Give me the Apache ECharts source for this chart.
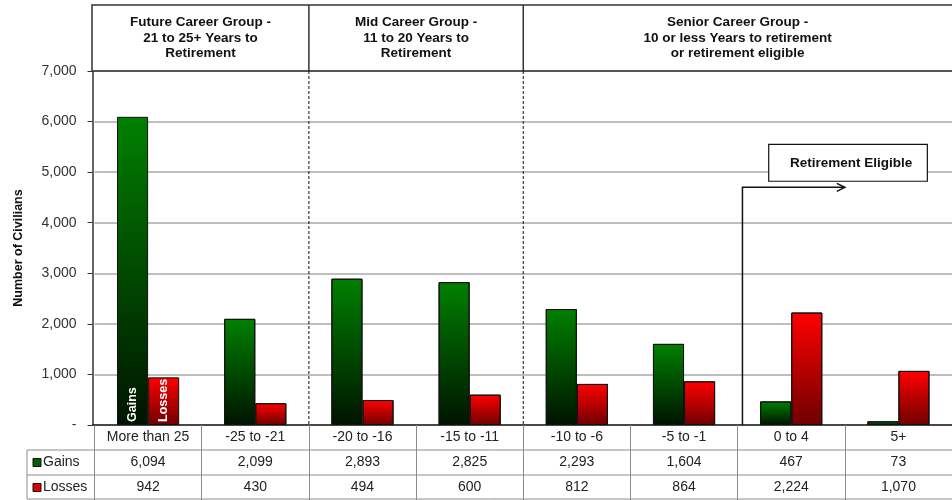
<!DOCTYPE html>
<html><head><meta charset="utf-8">
<script src="https://cdn.jsdelivr.net/npm/echarts@6/dist/echarts.min.js"></script>
<style>html,body{margin:0;padding:0;background:#fff}#c{width:952px;height:500px}</style>
</head><body><div id="c"></div>
<script>
// ---- data ----
const categories = ['More than 25', '-25 to -21', '-20 to -16', '-15 to -11', '-10 to -6', '-5 to -1', '0 to 4', '5+'];
const gains = [6094, 2099, 2893, 2825, 2293, 1604, 467, 73];
const losses = [942, 430, 494, 600, 812, 864, 2224, 1070];
const seriesNames = ['Gains', 'Losses'];
const yAxisTitle = 'Number of Civilians';
const groupTitles = [
  'Future Career Group -\n21 to 25+ Years to\nRetirement',
  'Mid Career Group -\n11 to 20 Years to\nRetirement',
  'Senior Career Group -\n10 or less Years to retirement\nor retirement eligible'
];
const groupStarts = [0, 2, 4];   // first category index of each group
const groupEnds = [1, 3, 7];     // last category index of each group
const annotationText = 'Retirement Eligible';
const eligibleFrom = 6;          // category index where retirement eligibility starts

// ---- helpers ----
const fmt = v => v === 0 ? '-' : v.toLocaleString('en-US');
const FONT = '"Liberation Sans", Arial, sans-serif';

const chart = echarts.init(document.getElementById('c'), null, {renderer: 'canvas'});

function grad(top, bottom) {
  return new echarts.graphic.LinearGradient(0, 0, 0, 1, [
    {offset: 0, color: top}, {offset: 1, color: bottom}
  ]);
}
const greenFill = grad('#008000', '#001400');
const redFill = grad('#ff0000', '#700000');

function firstLabel(text) {
  return {
    show: true, position: 'insideBottom', rotate: 90, distance: 3,
    align: 'left', verticalAlign: 'middle',
    formatter: text, color: '#fff', fontWeight: 'bold', fontSize: 12.5, fontFamily: FONT
  };
}

chart.setOption({
  animation: false,
  textStyle: {fontFamily: FONT},
  grid: {left: 94.5, top: 71, width: 859, bottom: 75, containLabel: false},
  xAxis: {
    type: 'category',
    data: categories,
    boundaryGap: true,
    axisLine: {show: true, lineStyle: {color: '#222', width: 1.5}},
    axisTick: {show: true, alignWithLabel: false, length: 75, lineStyle: {color: '#8c8c8c', width: 1}},
    axisLabel: {
      interval: 0, margin: 0,
      formatter: (value, idx) => `{c|${value}}\n{v|${fmt(gains[idx])}}\n{v|${fmt(losses[idx])}}`,
      rich: {
        c: {fontSize: 14, lineHeight: 25, color: '#222', fontFamily: FONT},
        v: {fontSize: 14, lineHeight: 25, color: '#222', fontFamily: FONT}
      }
    },
    splitLine: {show: false}
  },
  yAxis: {
    type: 'value', min: 0, max: 7000, interval: 1000, offset: 2,
    name: yAxisTitle, nameLocation: 'middle', nameGap: 67,
    nameTextStyle: {fontSize: 12.5, fontWeight: 'bold', color: '#111', fontFamily: FONT},
    axisLine: {show: true, lineStyle: {color: '#333', width: 1.5}},
    axisTick: {show: true, length: 5, lineStyle: {color: '#333'}},
    axisLabel: {formatter: fmt, fontSize: 14, color: '#333', margin: 16, fontFamily: FONT},
    splitLine: {lineStyle: {color: '#a8a8a8', width: 1.5}}
  },
  series: [
    {
      name: seriesNames[0], type: 'bar', barGap: '0%', barCategoryGap: '42%',
      itemStyle: {color: greenFill, borderColor: '#111', borderWidth: 1},
      data: gains.map((v, i) => i === 0 ? {value: v, label: firstLabel(seriesNames[0])} : v)
    },
    {
      name: seriesNames[1], type: 'bar',
      itemStyle: {color: redFill, borderColor: '#111', borderWidth: 1},
      data: losses.map((v, i) => i === 0 ? {value: v, label: firstLabel(seriesNames[1])} : v)
    }
  ]
});

// ---- overlay graphics computed from the axes ----
function build() {
  const c0 = chart.convertToPixel({xAxisIndex: 0}, 0);
  const c1 = chart.convertToPixel({xAxisIndex: 0}, 1);
  const band = c1 - c0;
  const edge = i => c0 - band / 2 + i * band;      // left edge of category i
  const yPx = v => chart.convertToPixel({yAxisIndex: 0}, v);
  const gridLeft = 92;
  const W = chart.getWidth(), H = chart.getHeight();
  const yTop = yPx(7000), yZero = yPx(0);
  const headerTop = 5;
  const rowH = (H - yZero) / 3;
  const g = [];
  const stroke = '#333';

  // gap filler between offset y axis line and grid
  g.push({type: 'line', shape: {x1: gridLeft, y1: yZero, x2: edge(0), y2: yZero},
          style: {stroke: '#222', lineWidth: 1.5}, z: 10});

  // header frame
  g.push({type: 'rect', shape: {x: gridLeft, y: headerTop, width: W - gridLeft + 5, height: yTop - headerTop},
          style: {fill: 'none', stroke: stroke, lineWidth: 1.5}, z: 10});
  groupTitles.forEach((t, k) => {
    const x1 = k === 0 ? gridLeft : edge(groupStarts[k]);
    const x2 = Math.min(edge(groupEnds[k] + 1), W);
    if (k > 0) {
      g.push({type: 'line', shape: {x1: x1, y1: headerTop, x2: x1, y2: yTop},
              style: {stroke: stroke, lineWidth: 1.5}, z: 10});
      g.push({type: 'line', shape: {x1: x1, y1: yTop, x2: x1, y2: yZero},
              style: {stroke: '#111', lineWidth: 1, lineDash: [3, 2]}, z: 10});
    }
    g.push({type: 'text', x: (x1 + x2) / 2, y: (headerTop + yTop) / 2,
            style: {text: t, align: 'center', verticalAlign: 'middle', fontSize: 13.5, fontWeight: 'bold',
                    lineHeight: 15.5, fill: '#111', fontFamily: FONT}, z: 10});
  });

  // retirement eligible annotation
  const xe = edge(eligibleFrom) + band * 0.045;
  const ya = yPx(4700);
  g.push({type: 'polyline', shape: {points: [[xe, yZero], [xe, ya], [edge(eligibleFrom + 1), ya]]},
          style: {stroke: '#111', lineWidth: 1.5, fill: null}, z: 10});
  const tip = edge(eligibleFrom + 1);
  g.push({type: 'polyline', shape: {points: [[tip - 8, ya - 4], [tip, ya], [tip - 8, ya + 4]]},
          style: {stroke: '#111', lineWidth: 1.5, fill: null}, z: 10});
  const bx1 = edge(eligibleFrom) + band * 0.29, bx2 = edge(eligibleFrom + 1) + band * 0.77;
  const by1 = yPx(5550), by2 = yPx(4820);
  g.push({type: 'rect', shape: {x: bx1, y: by1, width: bx2 - bx1, height: by2 - by1},
          style: {fill: '#fff', stroke: '#111', lineWidth: 1.2}, z: 11});
  g.push({type: 'text', x: (bx1 + bx2) / 2 + 3, y: (by1 + by2) / 2,
          style: {text: annotationText, align: 'center', verticalAlign: 'middle', fontSize: 13.5,
                  fontWeight: 'bold', fill: '#111', fontFamily: FONT}, z: 12});

  // data table lines and legend keys
  const tableLeft = 27;
  const rows = [yZero + rowH, yZero + 2 * rowH, H - 1];
  rows.forEach(y => g.push({type: 'line', shape: {x1: tableLeft, y1: y, x2: W, y2: y},
                            style: {stroke: '#8c8c8c', lineWidth: 1}, z: 5}));
  g.push({type: 'line', shape: {x1: tableLeft, y1: rows[0], x2: tableLeft, y2: rows[2]},
          style: {stroke: '#8c8c8c', lineWidth: 1}, z: 5});
  [greenFill, redFill].forEach((fill, k) => {
    const cy = yZero + rowH * (k + 1.5);
    g.push({type: 'rect', shape: {x: 33, y: cy - 4, width: 8, height: 8},
            style: {fill: k === 0 ? '#006000' : '#e00000', stroke: '#111', lineWidth: 1}, z: 6});
    g.push({type: 'text', x: 43, y: cy,
            style: {text: seriesNames[k], align: 'left', verticalAlign: 'middle', fontSize: 14,
                    fill: '#222', fontFamily: FONT}, z: 6});
  });

  chart.setOption({graphic: g});
}
build();
</script>
</body></html>
